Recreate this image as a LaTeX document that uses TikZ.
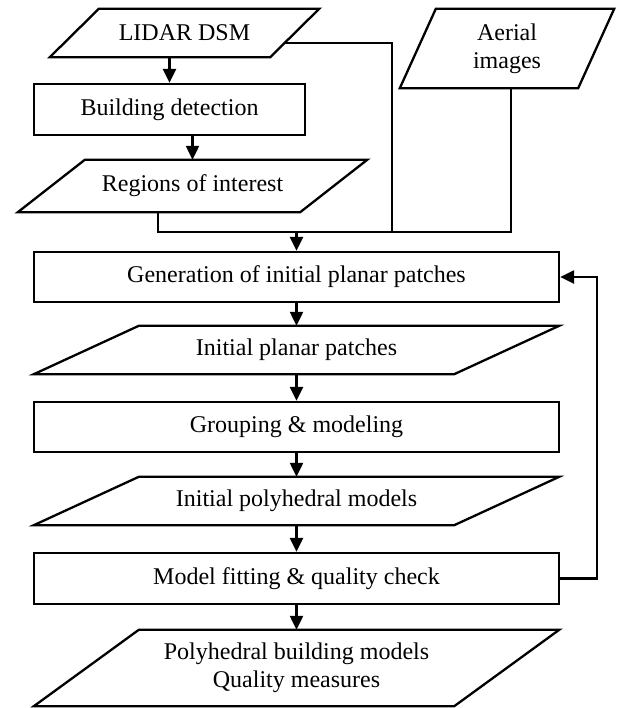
\documentclass[tikz,border=0pt]{standalone}
\usepackage{fontspec}
\setmainfont{Liberation Serif}
\usetikzlibrary{arrows.meta}
\tikzset{
  lw/.style={line width=2.3pt},
  procbox/.style={draw, lw, inner sep=0pt, minimum width=525pt, minimum height=50pt},
  databox/.style={inner sep=0pt, align=center},
  flow/.style={lw, -{Triangle[length=14pt,width=13pt]}},
  link/.style={lw},
}
\newcommand\parashape[2]{\draw[lw, line join=miter] ([xshift=#2]#1.north west) -- ([xshift=#2]#1.north east) -- ([xshift=-#2]#1.south east) -- ([xshift=-#2]#1.south west) -- cycle;}
\begin{document}
\begin{tikzpicture}[x=1pt,y=-1pt,font=\fontsize{24}{28}\selectfont]
\useasboundingbox (0,0) rectangle (621,708);
% inputs
\node[databox, minimum width=220pt, minimum height=48pt] (lidar) at (184.5,33) {LIDAR DSM};
\parashape{lidar}{24.5pt}
\node[databox, minimum width=178pt, minimum height=79pt] (aerial) at (507,48.5) {Aerial\\images};
\parashape{aerial}{18pt}
\node[procbox, minimum width=271pt, minimum height=51pt] (build) at (169.5,109.5) {Building detection};
\node[databox, minimum width=282pt, minimum height=52pt] (regions) at (192.5,186) {Regions of interest};
\parashape{regions}{33.5pt}
% main column
\node[procbox] (gen) at (296.5,277) {Generation of initial planar patches};
\node[databox, minimum width=420pt, minimum height=48pt] (ipp) at (296.5,350) {Initial planar patches};
\parashape{ipp}{52.5pt}
\node[procbox] (group) at (296.5,427) {Grouping \& modeling};
\node[databox, minimum width=420pt, minimum height=48pt] (ipm) at (296.5,501) {Initial polyhedral models};
\parashape{ipm}{52.5pt}
\node[procbox, minimum height=51pt] (model) at (296.5,578.5) {Model fitting \& quality check};
\node[databox, minimum width=420pt, minimum height=76pt] (final) at (296.5,668) {Polyhedral building models\\Quality measures};
\parashape{final}{52.5pt}
% coordinates
\coordinate (bus) at (296.5,232);
\coordinate (lidarJ) at (392,232);
\coordinate (fb) at (597,0);
% connectors
\draw[flow] (build.north |- lidar.south) -- (build.north);
\draw[flow] (build.south -| regions.north) -- (regions.north);
\draw[link] ([xshift=-34.5pt]regions.south) |- ([xshift=4pt]aerial.south |- bus) -- ([xshift=4pt]aerial.south);
\draw[link] ([shift={(-10.2pt,-10pt)}]lidar.east) -| (lidarJ);
\draw[flow] (bus) -- (gen.north);
\draw[flow] (gen.south) -- (ipp.north);
\draw[flow] (ipp.south) -- (group.north);
\draw[flow] (group.south) -- (ipm.north);
\draw[flow] (ipm.south) -- (model.north);
\draw[flow] (model.south) -- (final.north);
\draw[flow] (model.east) -- (model.east -| fb) |- (gen.east);
\end{tikzpicture}
\end{document}
